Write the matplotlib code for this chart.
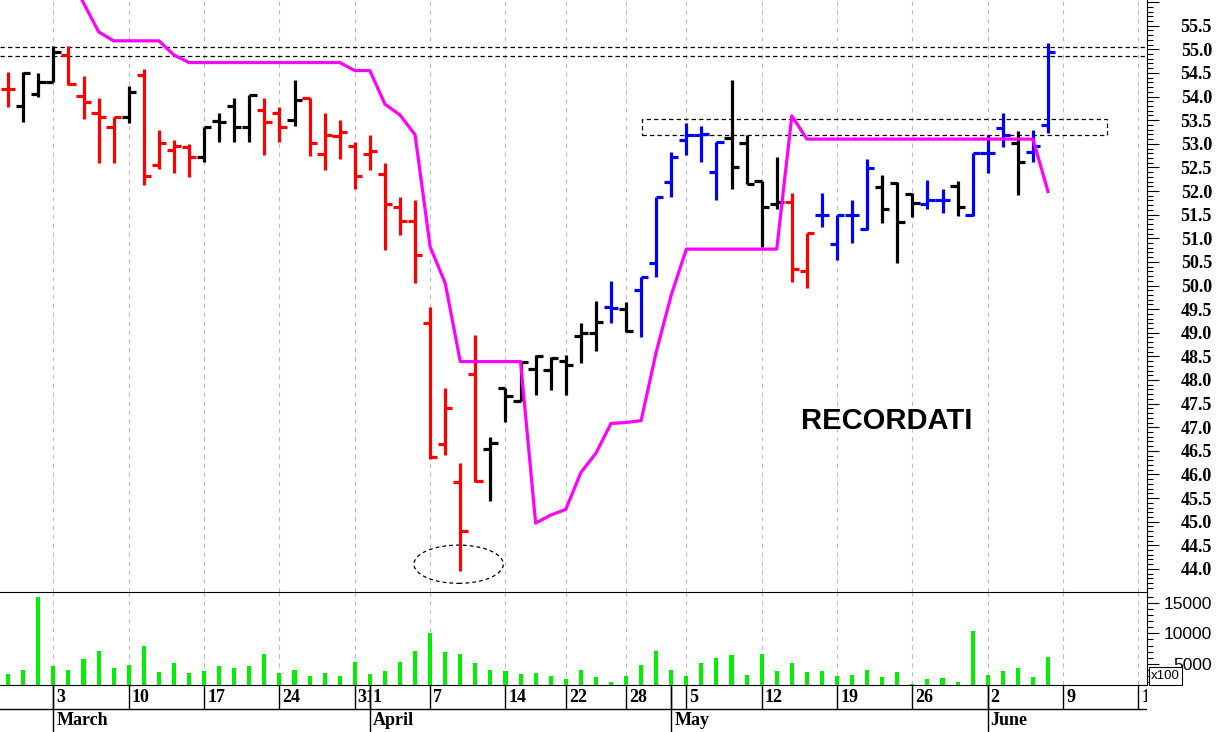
import matplotlib.pyplot as plt
import numpy as np
from matplotlib.patches import Ellipse, Rectangle

plt.rcParams["font.family"] = ["Liberation Sans", "DejaVu Sans"]

# daily bars, 26 Feb -> 6 Jun 2025 (one entry per trading day)
opens = [54.17, 53.80, 54.05, 54.31, 54.88, 54.01, 53.66, 53.35, 53.56, 54.46,
         52.55, 52.87, 52.94, 52.71, 53.49, 53.80, 53.35, 53.72, 53.66, 53.50,
         53.96, 52.78, 53.16, 52.96, 52.78, 52.36, 51.66, 51.37, 49.20, 46.64,
         45.85, 48.13, 46.53, 47.82, 47.56, 48.23, 48.22, 48.41, 48.93, 49.00,
         49.54, 49.50, 49.90, 50.47, 52.20, 53.08, 53.19, 52.41, 53.12, 53.01,
         52.22, 51.73, 51.77, 50.31, 51.49, 50.88, 51.49, 51.19, 52.08, 52.18,
         51.94, 51.73, 51.80, 52.11, 51.49, 52.81, 53.33, 53.02, 52.83, 53.40]
highs = [54.53, 54.53, 54.49, 55.07, 55.07, 54.43, 53.96, 53.57, 54.22, 54.58,
         53.29, 53.09, 53.00, 53.36, 53.65, 53.98, 54.03, 53.98, 53.78, 54.35,
         53.98, 53.65, 53.50, 53.04, 53.19, 52.59, 51.88, 51.81, 49.55, 47.84,
         46.25, 48.95, 46.80, 47.84, 48.41, 48.53, 48.48, 48.53, 49.20, 49.68,
         50.10, 49.66, 50.19, 51.88, 52.83, 53.45, 53.38, 53.04, 54.35, 53.19,
         52.22, 52.73, 51.95, 51.12, 51.95, 51.49, 51.80, 52.67, 52.34, 52.20,
         51.95, 52.23, 52.04, 52.22, 52.81, 53.19, 53.65, 53.28, 53.29, 55.13]
lows = [53.77, 53.47, 54.00, 54.31, 54.24, 53.52, 52.59, 52.59, 53.43, 52.13,
        52.46, 52.38, 52.29, 52.62, 53.04, 53.04, 53.04, 52.76, 53.04, 53.38,
        52.74, 52.44, 52.67, 52.04, 52.44, 50.75, 51.07, 50.05, 46.32, 46.41,
        43.96, 45.85, 45.44, 47.12, 47.56, 47.68, 47.79, 47.68, 48.37, 48.62,
        49.21, 49.02, 48.90, 50.19, 51.88, 52.76, 52.62, 51.82, 52.04, 52.15,
        50.81, 51.61, 50.08, 49.94, 51.23, 50.54, 50.89, 51.17, 51.32, 50.48,
        51.46, 51.63, 51.53, 51.47, 51.47, 52.38, 52.93, 51.92, 52.62, 53.22]
closes = [54.17, 54.50, 54.31, 54.95, 54.26, 53.88, 53.56, 53.57, 54.10, 52.32,
          53.02, 52.95, 52.73, 53.35, 53.47, 53.35, 54.03, 53.47, 53.35, 53.93,
          53.02, 53.19, 53.26, 52.32, 52.85, 51.73, 51.37, 50.65, 46.38, 47.41,
          44.81, 45.86, 46.66, 47.66, 48.39, 48.51, 48.46, 48.32, 48.99, 49.23,
          49.52, 49.04, 50.19, 51.87, 52.71, 53.19, 53.21, 53.04, 52.50, 52.15,
          51.67, 51.77, 50.36, 51.12, 51.49, 51.49, 51.49, 52.48, 51.63, 51.35,
          51.74, 51.80, 51.80, 51.67, 52.81, 52.81, 53.19, 52.62, 52.95, 54.95]
bar_codes = "rkkkrrrrkrrrrkkkkrrkrrrrrrrrrrrrkkkkkkkkbkbbbbbbkkkkrrbbbbkkkbbkbbbkbb"
volumes = [3400, 4100, 15900, 4600, 4100, 5800, 7200, 4300, 4800, 8000,
           3700, 5100, 3500, 3900, 4600, 4300, 4600, 6600, 3600, 4100,
           3100, 3600, 3000, 5300, 3400, 3900, 5300, 7200, 10000, 7000,
           6700, 5100, 4100, 3900, 3400, 3600, 3000, 2600, 4000, 2800,
           2000, 3000, 4800, 7200, 4100, 3000, 5100, 5900, 6400, 3200,
           6700, 3900, 5100, 3700, 3900, 3000, 3200, 4100, 2900, 3700,
           1750, 2500, 2650, 2000, 10400, 3200, 3900, 4300, 2900, 6200]
stop_line = [np.nan, np.nan, np.nan, np.nan, 56.60, 55.98, 55.37, 55.18, 55.18, 55.18,
             55.18, 54.88, 54.72, 54.72, 54.72, 54.72, 54.72, 54.72, 54.72, 54.72,
             54.72, 54.72, 54.72, 54.55, 54.55, 53.84, 53.61, 53.19, 50.82, 50.05,
             48.39, 48.39, 48.39, 48.39, 48.39, 44.97, 45.14, 45.26, 46.04, 46.45,
             47.08, 47.10, 47.14, 48.59, 49.80, 50.77, 50.77, 50.77, 50.77, 50.77,
             50.77, 50.77, 53.59, 53.10, 53.10, 53.10, 53.10, 53.10, 53.10, 53.10,
             53.10, 53.10, 53.10, 53.10, 53.10, 53.10, 53.10, 53.10, 53.10, 51.99]

# reference levels drawn on the chart
resistance_levels = [55.04, 54.86]
box_x = [42.04, 72.89]
box_price = [53.19, 53.52]
ellipse_center = (29.89, 44.10)
ellipse_size = (5.93, 0.81)

# date axis (trading-day index)
grid_days = [3, 8, 13, 18, 23, 28, 33, 37, 41, 45, 50, 55, 60, 65, 70, 75]
day_ticks = [3, 8, 13, 18, 23, 24, 28, 33, 37, 41, 44, 45, 50, 55, 60, 65, 70, 75]
day_labels = ["3", "10", "17", "24", "31", "1", "7", "14", "22", "28", "",
              "5", "12", "19", "26", "2", "9", "16"]
month_ticks = [3, 24, 44, 65]
month_labels = ["March", "April", "May", "June"]

price_ticks = np.arange(44.0, 56.01, 0.5)
volume_ticks = [5000, 10000, 15000]

COLORS = {"r": "#FF0000", "k": "#000000", "b": "#0000FF"}
W, H = 1217, 732
XLIM = (-0.543, 75.55)


def box(x0, y0, x1, y1):
    return [x0 / W, 1 - y1 / H, (x1 - x0) / W, (y1 - y0) / H]


def style_right_axis(axis, major_len, pad):
    axis.yaxis.tick_right()
    axis.tick_params(axis="y", which="major", direction="out", length=major_len,
                     width=0.8, pad=pad, colors="black")
    axis.tick_params(axis="y", which="minor", direction="out", length=4.3,
                     width=0.8)
    axis.tick_params(axis="x", which="both", bottom=False, labelbottom=False)
    for lab in axis.get_yticklabels():
        lab.set_horizontalalignment("right")
    axis.spines["left"].set_visible(False)


def cell_labels(axis, ticks, labels, y0, y1):
    # each label is clipped to its own cell, like the original date scale
    edges = list(ticks[1:]) + [XLIM[1]]
    for t, right, lab in zip(ticks, edges, labels):
        txt = axis.text(t + 0.2, (y0 + y1) / 2, lab, ha="left", va="center",
                        fontfamily="Liberation Serif", fontweight="bold",
                        fontsize=13, clip_on=True)
        clip = Rectangle((t, y0), right - t, y1 - y0, transform=axis.transData)
        txt.set_clip_path(clip)


fig = plt.figure(figsize=(12.17, 7.32), dpi=100)
ax = fig.add_axes(box(0, 0, 1146.7, 592))
axv = fig.add_axes(box(0, 592, 1146.7, 685))
axd = fig.add_axes(box(0, 685, 1146.7, 732))

x = np.arange(len(opens))
colors = [COLORS[c] for c in bar_codes]
tick = 0.48

for a in (ax, axv):
    a.set_xlim(*XLIM)
    for d in grid_days:
        a.axvline(d, color="#BEBEBE", lw=0.8, ls=(0, (4, 4)), zorder=0)

# price panel
ax.vlines(x, lows, highs, colors=colors, lw=2.3, capstyle="butt", zorder=3)
ax.hlines(opens, x - tick, x, colors=colors, lw=2.3, capstyle="butt", zorder=3)
ax.hlines(closes, x, x + tick, colors=colors, lw=2.3, capstyle="butt", zorder=3)
ax.plot(x, stop_line, color="#FF00FF", lw=2.3, zorder=4)
for level in resistance_levels:
    ax.axhline(level, color="black", lw=0.9, ls=(0, (3.5, 2.5)), zorder=2)
ax.add_patch(Rectangle((box_x[0], box_price[0]), box_x[1] - box_x[0],
                       box_price[1] - box_price[0], fill=False, ec="black",
                       lw=0.9, ls=(0, (3.5, 2.5)), zorder=2))
ax.add_patch(Ellipse(ellipse_center, *ellipse_size, fill=False, ec="black",
                     lw=0.9, ls=(0, (3, 2.5)), zorder=2))
ax.text(58.31, 47.14, "RECORDATI", ha="center", va="center", fontsize=21,
        fontweight="bold", color="black")

ax.set_ylim(43.512, 56.044)
ax.set_yticks(price_ticks)
ax.set_yticklabels([f"{v:.1f}" if v < 55.9 else "" for v in price_ticks],
                   fontfamily="Liberation Serif", fontweight="bold", fontsize=13)
ax.set_yticks(np.arange(43.6, 56.04, 0.1), minor=True)
style_right_axis(ax, 8.4, 38.6)
ax.spines["top"].set_visible(False)
ax.spines["bottom"].set_visible(False)

# volume panel
axv.bar(x, volumes, width=0.27, color="#00F000", zorder=3)
axv.set_ylim(1577, 16736)
axv.set_yticks(volume_ticks)
axv.set_yticklabels([str(v) for v in volume_ticks], fontsize=12.5)
axv.set_yticks(np.arange(2000, 16001, 1000), minor=True)
style_right_axis(axv, 8.4, 38.6)

# date axis
axd.set_xlim(*XLIM)
axd.set_ylim(0, 1)
axd.axis("off")
row = 23 / 47
axd.axhline(row, color="black", lw=1.0)
axd.vlines(day_ticks, row, 1, colors="black", lw=1.0)
axd.vlines(month_ticks, 0, 1, colors="black", lw=1.0)
cell_labels(axd, day_ticks, day_labels, row, 1)
cell_labels(axd, month_ticks, month_labels, 0, row)

# "x100" volume multiplier tag
fig.add_artist(Rectangle((1149 / W, 1 - 685 / H), 33 / W, 18 / H,
                         transform=fig.transFigure, fc="white", ec="black",
                         lw=0.8, zorder=5))
fig.text(1165.5 / W, 1 - 676 / H, "x100", ha="center", va="center",
         fontsize=9.5, zorder=6)

fig.savefig("out.png", dpi=100)
